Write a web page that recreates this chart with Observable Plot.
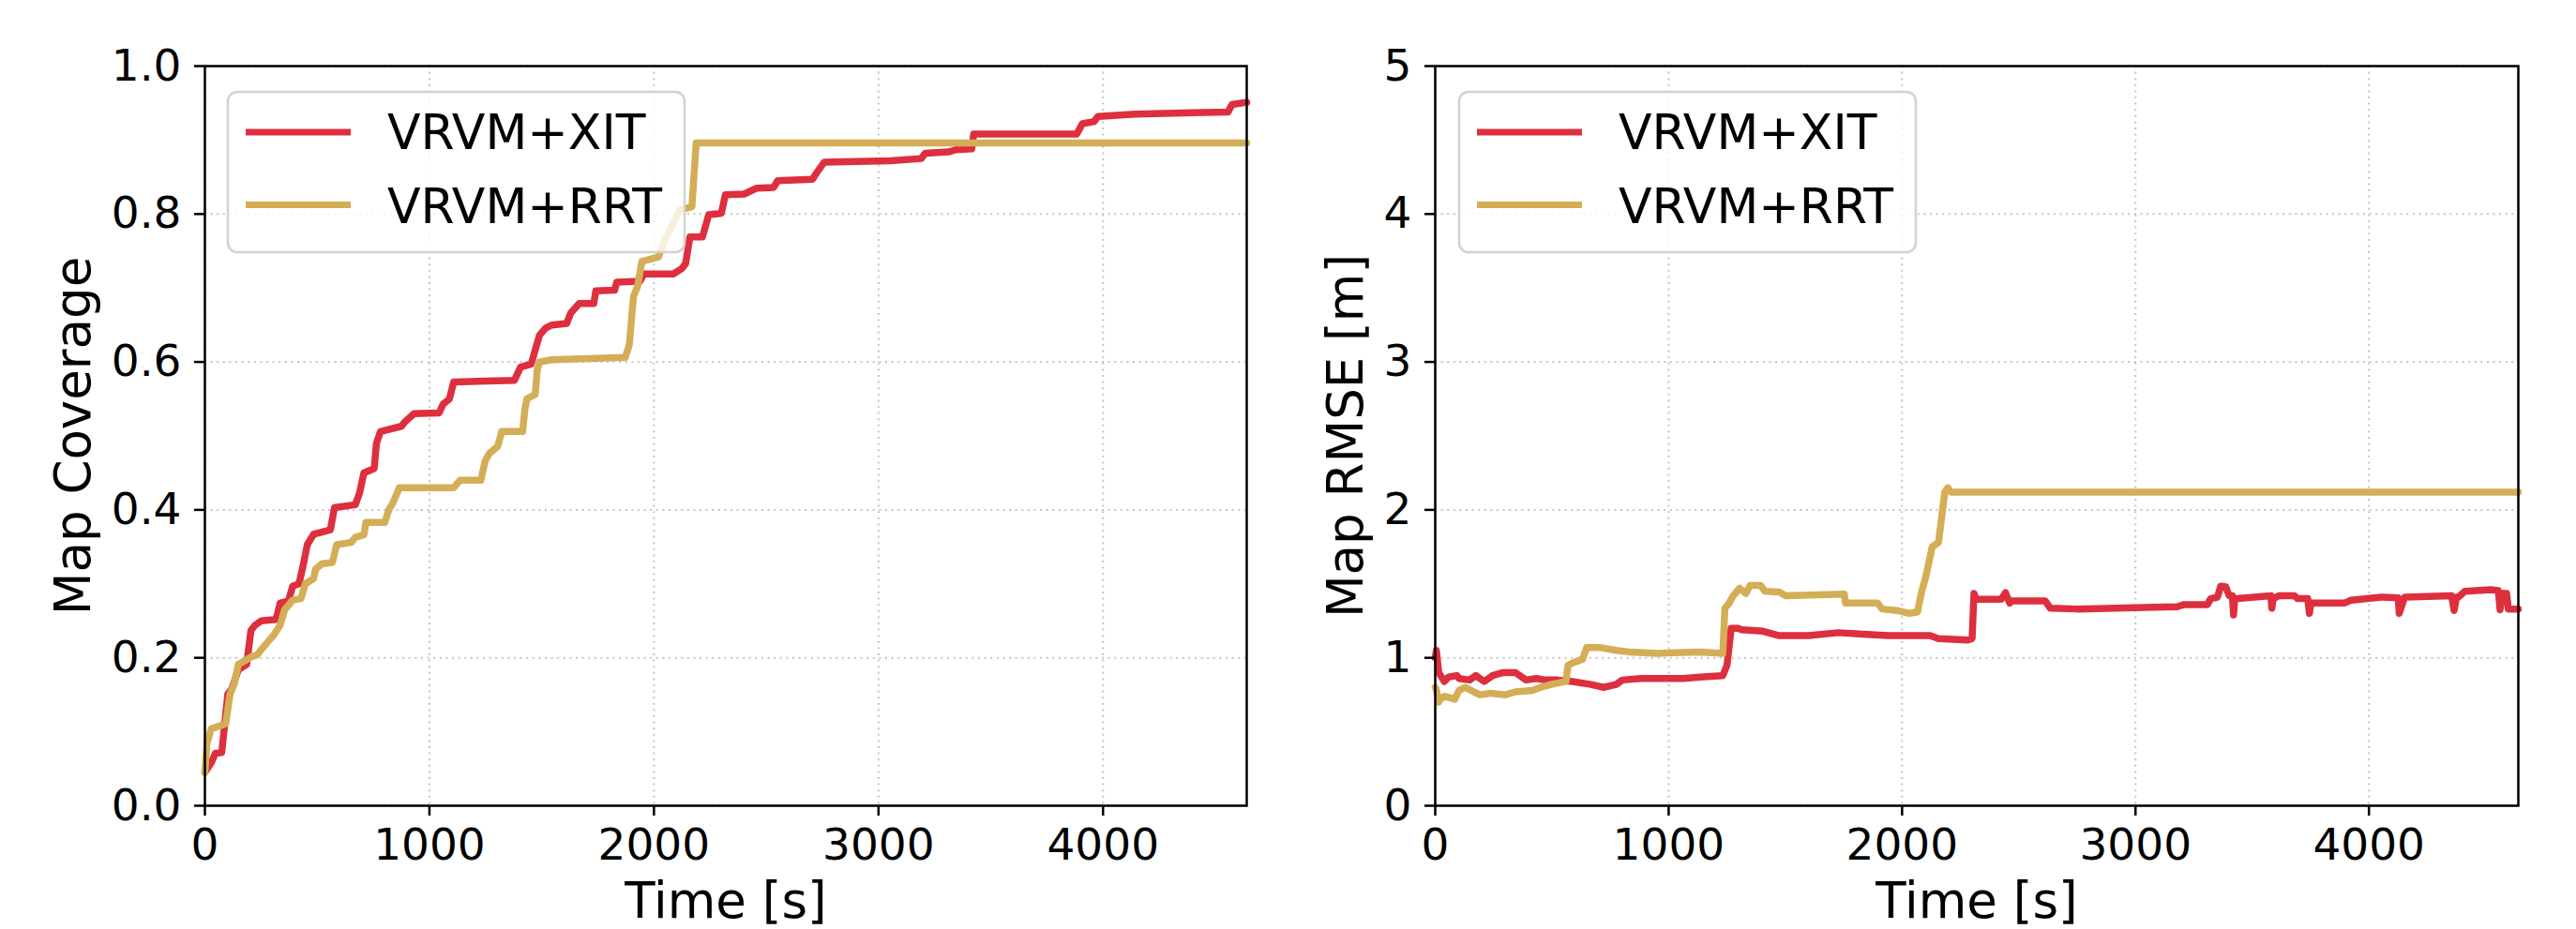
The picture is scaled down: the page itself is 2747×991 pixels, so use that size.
<!DOCTYPE html>
<html>
<head>
<meta charset="utf-8">
<script src="https://cdn.jsdelivr.net/npm/d3@7"></script>
<script src="https://cdn.jsdelivr.net/npm/@observablehq/plot@0.6"></script>
<style>
  body { margin: 0; background: #fff; }
  #wrap { position: relative; width: 2747px; height: 991px; display: flex; font-family: "DejaVu Sans"; }
  #wrap > svg { flex: none; max-width: none; }
  #wrap g[aria-label="x-axis label"], #wrap g[aria-label="y-axis label"] { font-size: 53px; }
  #legend { position: absolute; left: 0; top: 0; pointer-events: none; }
</style>
</head>
<body>
<div id="wrap"></div>
<script>
// ---- data ----
const seriesNames = ["VRVM+XIT", "VRVM+RRT"];
const seriesColors = ["#dd2f3e", "#d4ae56"];
const xTicks = [0, 1000, 2000, 3000, 4000];
const coverageTicks = [0, 0.2, 0.4, 0.6, 0.8, 1.0];
const rmseTicks = [0, 1, 2, 3, 4, 5];

// [time s, coverage]
const coverageXIT = [[0,0.045],[28,0.058],[47,0.071],[75,0.072],[84,0.098],[102,0.151],[120,0.158],[149,0.184],[186,0.191],[205,0.237],[223,0.244],[251,0.25],[317,0.252],[335,0.274],[372,0.277],[391,0.297],[419,0.3],[437,0.324],[456,0.353],[484,0.367],[521,0.37],[559,0.373],[577,0.403],[670,0.407],[689,0.423],[708,0.45],[754,0.456],[764,0.49],[782,0.506],[875,0.513],[894,0.52],[931,0.53],[1043,0.531],[1061,0.543],[1089,0.55],[1108,0.573],[1378,0.575],[1406,0.593],[1453,0.597],[1471,0.616],[1490,0.636],[1518,0.646],[1546,0.65],[1611,0.652],[1629,0.666],[1667,0.679],[1732,0.679],[1741,0.696],[1825,0.697],[1834,0.708],[1937,0.709],[1955,0.719],[2086,0.719],[2123,0.726],[2141,0.733],[2160,0.769],[2216,0.769],[2244,0.799],[2300,0.801],[2318,0.826],[2402,0.827],[2458,0.835],[2533,0.836],[2551,0.845],[2706,0.847],[2723,0.855],[2758,0.87],[3052,0.872],[3190,0.875],[3208,0.882],[3311,0.884],[3346,0.887],[3415,0.888],[3424,0.908],[3882,0.908],[3908,0.922],[3960,0.925],[3978,0.932],[4142,0.935],[4557,0.938],[4574,0.948],[4640,0.951]];
const coverageRRT = [[0,0.045],[9,0.084],[28,0.104],[93,0.111],[112,0.151],[130,0.164],[149,0.191],[205,0.201],[233,0.204],[251,0.211],[279,0.221],[307,0.231],[335,0.244],[354,0.264],[391,0.278],[428,0.28],[447,0.3],[484,0.307],[493,0.32],[521,0.327],[568,0.329],[587,0.353],[652,0.356],[670,0.363],[708,0.366],[717,0.383],[801,0.383],[819,0.4],[838,0.41],[866,0.43],[1108,0.43],[1136,0.44],[1229,0.44],[1248,0.466],[1266,0.476],[1304,0.486],[1322,0.506],[1415,0.506],[1425,0.536],[1434,0.55],[1471,0.556],[1480,0.589],[1490,0.6],[1546,0.603],[1872,0.606],[1890,0.623],[1909,0.689],[1927,0.702],[1946,0.736],[2020,0.742],[2048,0.765],[2114,0.805],[2169,0.81],[2188,0.896],[4640,0.896]];

// [time s, RMSE m]
const rmseXIT = [[0,1.0],[5,1.05],[15,0.9],[39,0.84],[57,0.87],[93,0.88],[102,0.86],[147,0.85],[174,0.88],[210,0.84],[246,0.88],[291,0.9],[344,0.9],[389,0.85],[434,0.86],[470,0.85],[524,0.85],[587,0.84],[667,0.82],[721,0.8],[775,0.82],[802,0.85],[883,0.86],[1062,0.86],[1134,0.87],[1232,0.88],[1250,0.95],[1268,1.2],[1295,1.2],[1313,1.19],[1403,1.18],[1474,1.15],[1600,1.15],[1726,1.17],[1833,1.16],[1941,1.15],[2120,1.15],[2156,1.13],[2282,1.12],[2300,1.13],[2308,1.435],[2317,1.395],[2425,1.395],[2443,1.44],[2461,1.37],[2470,1.385],[2613,1.385],[2635,1.335],[2749,1.33],[3179,1.345],[3208,1.36],[3308,1.36],[3322,1.4],[3351,1.41],[3365,1.485],[3387,1.48],[3401,1.42],[3415,1.42],[3420,1.29],[3425,1.4],[3437,1.4],[3580,1.42],[3584,1.335],[3590,1.4],[3616,1.42],[3680,1.42],[3695,1.4],[3738,1.4],[3745,1.3],[3752,1.37],[3895,1.37],[3924,1.39],[4053,1.41],[4125,1.405],[4130,1.3],[4140,1.35],[4153,1.41],[4354,1.42],[4365,1.32],[4375,1.41],[4383,1.41],[4411,1.45],[4526,1.46],[4554,1.455],[4562,1.325],[4570,1.435],[4590,1.435],[4597,1.33],[4640,1.33]];
const rmseRRT = [[0,0.8],[4,0.79],[15,0.7],[22,0.72],[39,0.74],[84,0.72],[102,0.78],[129,0.8],[165,0.77],[192,0.75],[237,0.76],[300,0.75],[344,0.77],[416,0.78],[452,0.8],[497,0.82],[560,0.84],[569,0.95],[596,0.97],[631,0.99],[649,1.07],[703,1.07],[775,1.05],[829,1.04],[954,1.03],[1134,1.04],[1232,1.03],[1241,1.335],[1259,1.37],[1277,1.42],[1304,1.47],[1331,1.435],[1349,1.49],[1394,1.49],[1412,1.45],[1474,1.445],[1501,1.42],[1752,1.43],[1758,1.37],[1896,1.37],[1914,1.33],[1977,1.32],[2030,1.3],[2066,1.31],[2084,1.45],[2102,1.55],[2129,1.75],[2156,1.78],[2183,2.12],[2196,2.15],[2210,2.12],[4640,2.12]];

// ---- build ----
function rows(pairs, name) { return pairs.map(([t, v]) => ({t, v, series: name})); }

function panel({data, yDomain, yTicks, yFormat, yLabel, width, marginLeft, marginRight, yLabelOffset}) {
  const grid = {stroke: "#c4c4c4", strokeOpacity: 1, strokeWidth: 2, strokeDasharray: "2,4.6"};
  return Plot.plot({
    width, height: 991,
    marginLeft, marginRight, marginTop: 70, marginBottom: 132,
    style: {fontFamily: "DejaVu Sans", fontSize: "47px", background: "transparent", color: "black", overflow: "visible"},
    x: {domain: [0, 4640]},
    y: {domain: yDomain},
    color: {domain: seriesNames, range: seriesColors},
    marks: [
      Plot.gridX(xTicks, grid),
      Plot.gridY(yTicks, grid),
      Plot.line(data, {x: "t", y: "v", stroke: "series", strokeWidth: 7.5, strokeLinejoin: "round", strokeLinecap: "round"}),
      Plot.axisX(xTicks, {tickSize: 11, tickPadding: 13, strokeWidth: 2.5, tickFormat: d => String(d),
        label: "Time [s]", labelAnchor: "center", labelOffset: 119, labelArrow: "none"}),
      Plot.axisY(yTicks, {tickSize: 11, tickPadding: 14, strokeWidth: 2.5, tickFormat: yFormat,
        label: yLabel, labelAnchor: "center", labelOffset: yLabelOffset, labelArrow: "none"}),
      Plot.frame({stroke: "black", strokeWidth: 2.5})
    ]
  });
}

const wrap = document.getElementById("wrap");
wrap.append(panel({
  data: [...rows(coverageXIT, seriesNames[0]), ...rows(coverageRRT, seriesNames[1])],
  yDomain: [0, 1], yTicks: coverageTicks, yFormat: d3.format(".1f"), yLabel: "Map Coverage",
  width: 1374, marginLeft: 218, marginRight: 45, yLabelOffset: 160
}));
wrap.append(panel({
  data: [...rows(rmseXIT, seriesNames[0]), ...rows(rmseRRT, seriesNames[1])],
  yDomain: [0, 5], yTicks: rmseTicks, yFormat: d => String(d), yLabel: "Map RMSE [m]",
  width: 1373, marginLeft: 156, marginRight: 62, yLabelOffset: 115
}));

// legends (one per panel, top-left inside the frame)
const leg = d3.select(wrap).append("svg").attr("id", "legend").attr("width", 2747).attr("height", 991)
  .style("font-family", "DejaVu Sans").style("font-size", "52px");
[243, 1556].forEach(x0 => {
  const g = leg.append("g").attr("transform", `translate(${x0},98)`);
  g.append("rect").attr("width", 487).attr("height", 171).attr("rx", 10)
    .attr("fill", "white").attr("fill-opacity", 0.8).attr("stroke", "#d2d2d2").attr("stroke-width", 2.5);
  seriesNames.forEach((name, i) => {
    const y = 43 + i * 77.5;
    g.append("line").attr("x1", 19).attr("x2", 131).attr("y1", y).attr("y2", y)
      .attr("stroke", seriesColors[i]).attr("stroke-width", 7);
    g.append("text").attr("x", 170).attr("y", 61 + i * 79).attr("fill", "black").text(name);
  });
});
</script>
</body>
</html>
